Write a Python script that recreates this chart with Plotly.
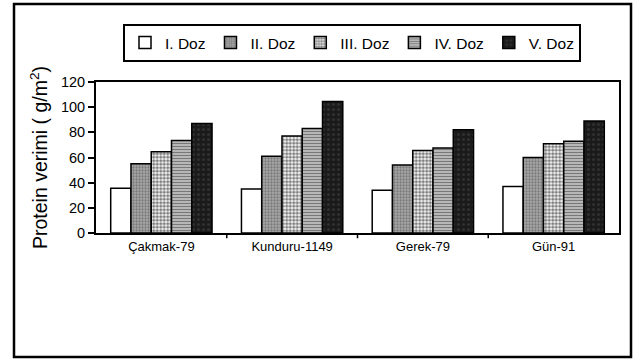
import plotly.graph_objects as go

categories = ["Çakmak-79", "Kunduru-1149", "Gerek-79", "Gün-91"]
series_names = ["I. Doz", "II. Doz", "III. Doz", "IV. Doz", "V. Doz"]
dose1 = [35.5, 35, 34, 37]
dose2 = [55, 61, 54, 60]
dose3 = [64.5, 77, 65.5, 71]
dose4 = [73.5, 83, 67.5, 73]
dose5 = [87, 104.5, 82, 89]
y_ticks = [0, 20, 40, 60, 80, 100, 120]

values = [dose1, dose2, dose3, dose4, dose5]
styles = [
    dict(color="white", pattern=dict(shape="")),
    dict(color="#8f8f8f", pattern=dict(shape=".", fgcolor="#4a4a4a", bgcolor="#a8a8a8", size=3, solidity=0.45)),
    dict(color="white", pattern=dict(shape=".", fgcolor="#000000", bgcolor="#ffffff", size=3.5, solidity=0.65)),
    dict(color="white", pattern=dict(shape="-", fgcolor="#000000", bgcolor="#f0f0f0", size=3, solidity=0.65)),
    dict(color="#1a1a1a", pattern=dict(shape=".", fgcolor="#444444", bgcolor="#1a1a1a", size=5, solidity=0.3)),
]

fig = go.Figure()
for name, vals, st in zip(series_names, values, styles):
    fig.add_trace(go.Bar(
        x=categories, y=vals, name=name,
        marker=dict(color=st["color"], pattern=st["pattern"],
                    line=dict(color="black", width=1.5)),
    ))

W, H = 635, 360
# plot area in screen pixels: x 96..619, y 82..233
L, R, T, B = 96, W - 619, 82, H - 233
pw, ph = W - L - R, H - T - B

def px(x):
    return (x - L) / pw

def py(y):
    return (H - B - y) / ph

fig.update_layout(
    width=W, height=H,
    margin=dict(l=L, r=R, t=T, b=B, autoexpand=False),
    paper_bgcolor="white", plot_bgcolor="white",
    barmode="group", bargap=0.225, bargroupgap=0,
    font=dict(family="Liberation Sans, Arial, sans-serif", color="black", size=13),
    showlegend=True,
    legend=dict(
        orientation="h", x=px(123), y=py(24), xanchor="left", yanchor="top",
        bordercolor="black", borderwidth=2, bgcolor="white",
        font=dict(size=15.5), itemwidth=30, traceorder="normal",
        tracegroupgap=0,
    ),
    xaxis=dict(
        showline=True, linecolor="black", linewidth=2, mirror=True,
        ticks="", showgrid=False, tickfont=dict(size=13), automargin=False,
    ),
    yaxis=dict(
        range=[0, 120], tickvals=y_ticks, showline=True, linecolor="black",
        linewidth=2, mirror=True, ticks="outside", ticklen=6, tickwidth=1.5,
        tickcolor="black", showgrid=False, tickfont=dict(size=14.5),
        automargin=False,
        title=dict(text="Protein verimi ( g/m<sup>2</sup>)", font=dict(size=19.5), standoff=8),
    ),
    shapes=[
        dict(type="rect", xref="paper", yref="paper",
             x0=px(14), x1=px(631), y0=py(357), y1=py(4),
             line=dict(color="black", width=2.5), fillcolor="rgba(0,0,0,0)", layer="below"),
    ],
)

# category separator ticks on the x axis (pointing down)
for i in range(len(categories) - 1):
    fig.add_shape(type="line", xref="x", yref="paper",
                  x0=i + 0.5, x1=i + 0.5, y0=0, y1=-0.035,
                  line=dict(color="black", width=1.5))

fig.write_html("out.html", config={"displayModeBar": False},
               post_script="document.body.style.margin='0';document.body.style.overflow='hidden';")
